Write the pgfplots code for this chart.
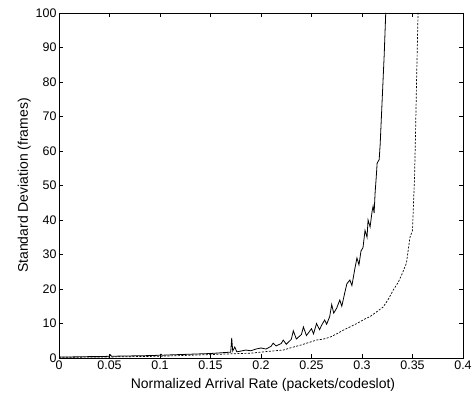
\documentclass[border=0pt]{standalone}
\usepackage{fontspec}
\setmainfont{Liberation Sans}
\usepackage{pgfplots}
\pgfplotsset{compat=1.18}
\begin{document}
\begin{tikzpicture}
\begin{axis}[
  at={(0,0)}, anchor=south west,
  scale only axis, width=404bp, height=345bp,
  xmin=0, xmax=0.4, ymin=0, ymax=100,
  xtick={0,0.05,...,0.4}, ytick={0,10,...,100},
  xticklabels={0,0.05,0.1,0.15,0.2,0.25,0.3,0.35,0.4},
  /pgf/number format/assume math mode=true,
  tick align=inside, tick pos=both,
  major tick length=4bp,
  tick style={black, line width=0.6pt},
  axis line style={line width=0.7pt},
  ticklabel style={font=\fontsize{12.5}{13}\selectfont},
  label style={font=\fontsize{14}{16}\selectfont},
  xlabel={Normalized Arrival Rate (packets/codeslot)},
  ylabel={Standard Deviation (frames)},
  xticklabel style={yshift=1bp},
  yticklabel style={xshift=1bp},
  xlabel style={yshift=-2bp, xshift=2bp},
  ylabel style={yshift=-2bp},
  clip=true,
]
\addplot[black, line width=0.8pt] coordinates {
(0,0.3)(0.01,0.3)(0.02,0.35)(0.03,0.4)(0.04,0.4)(0.05,0.5)(0.051,0.9)(0.052,0.5)
(0.06,0.55)(0.07,0.6)(0.08,0.65)(0.09,0.7)(0.10,0.8)(0.101,1.1)(0.102,0.8)
(0.11,0.9)(0.12,1.0)(0.13,1.1)(0.14,1.2)(0.15,1.3)(0.16,1.5)(0.165,1.6)(0.17,1.7)
(0.171,5.8)(0.172,2.0)(0.174,3.2)(0.176,1.8)(0.18,2.0)(0.185,2.3)(0.19,2.1)
(0.195,2.6)(0.20,2.9)(0.205,2.6)(0.21,3.4)(0.212,4.3)(0.215,3.5)(0.22,4.2)
(0.222,5.2)(0.225,4.0)(0.23,5.4)(0.232,7.9)(0.235,5.5)(0.24,6.8)(0.242,9.0)
(0.245,6.5)(0.25,8.5)(0.252,7.0)(0.255,10.0)(0.258,8.2)(0.26,9.5)(0.263,11.0)
(0.265,9.8)(0.268,12.0)(0.27,15.5)(0.272,13.0)(0.275,14.5)(0.278,16.8)(0.28,15.0)
(0.283,19.0)(0.285,21.5)(0.288,22.6)(0.29,21.0)(0.293,26.0)(0.295,29.0)(0.297,27.0)
(0.299,31.0)(0.301,32.0)(0.303,37.0)(0.305,35.0)(0.306,40.0)(0.308,38.0)
(0.310,42.5)(0.311,44.0)(0.312,42.0)(0.313,48.0)(0.314,52)(0.315,56.5)(0.317,57.5)
(0.318,62)(0.320,75)(0.322,88)(0.3235,100)
};
\addplot[black, line width=0.7pt, dash pattern=on 2bp off 1.5bp] coordinates {
(0,0.2)(0.05,0.3)(0.1,0.5)(0.12,0.7)(0.15,1.0)(0.17,1.2)(0.19,1.4)(0.20,1.7)
(0.21,2.0)(0.222,2.3)(0.23,3.0)(0.24,3.8)(0.255,5.2)(0.262,5.5)(0.268,6.0)(0.275,7.0)
(0.281,8.0)(0.288,9.0)(0.295,10.0)(0.302,11.2)(0.308,12.0)(0.315,13.5)(0.321,14.8)
(0.326,17)(0.331,19.7)(0.336,22)(0.340,24.6)(0.344,27.5)(0.3475,35)(0.350,37)
(0.351,45)(0.352,52)(0.353,65)(0.354,80)(0.3555,100)
};
\end{axis}
\pgfresetboundingbox
\path (-59bp,-43bp) rectangle (416bp,358bp);
\end{tikzpicture}
\end{document}
